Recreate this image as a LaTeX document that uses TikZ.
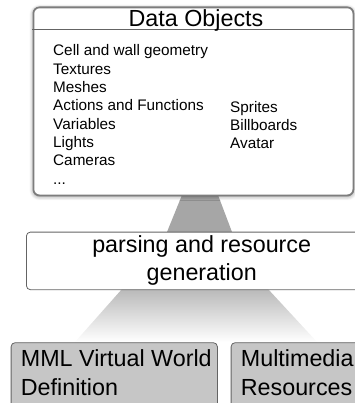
\documentclass[tikz,border=0pt]{standalone}
\usepackage{fontspec}
\setmainfont{Liberation Sans}
\usetikzlibrary{shadows.blur}
\definecolor{edge}{RGB}{100,100,100}
\definecolor{dataedge}{RGB}{125,125,125}
\definecolor{boxfill}{RGB}{198,198,198}
\definecolor{trap}{RGB}{166,166,166}
\definecolor{trapt}{RGB}{185,185,185}
\begin{document}
\begin{tikzpicture}[x=1pt,y=-1pt,
  frame/.style={draw=edge, line width=0.8pt, rounded corners=4pt, anchor=north west, inner sep=0pt},
  whitebox/.style={frame, fill=white},
  graybox/.style={frame, fill=boxfill},
  big/.style={font=\fontsize{23.3}{27.5}\selectfont, inner sep=0pt},
  item/.style={font=\fontsize{15.3}{18.4}\selectfont, inner sep=0pt, anchor=base west}]
\useasboundingbox (0,0) rectangle (354,403);
% connectors (funnels)
\fill[trap] (182,195) -- (218,195) -- (232,232) -- (167,232) -- cycle;
\shade[top color=trapt, bottom color=white] (122,289) -- (268,289) -- (317,342) -- (75,342) -- cycle;
% Data objects box
\node[whitebox, draw=dataedge, line width=1.8pt, rounded corners=6pt, minimum width=320pt, minimum height=188pt,
  blur shadow={shadow xshift=0pt, shadow yshift=-1pt, shadow blur steps=8, shadow blur radius=4pt, shadow opacity=45}] (data) at (32.5,6.5) {};
\coordinate (tl) at (32,29);
\coordinate (tr) at (353,29);
\draw[edge, line width=0.8pt] (tl) -- (tr);
\node[big, anchor=base] (title) at (196,27) {Data Objects};
\node[item] (i1) at (53,56) {Cell and wall geometry};
\node[item] (i2) at (53,74.3) {Textures};
\node[item] (i3) at (53,92.7) {Meshes};
\node[item] (i4) at (53,111) {Actions and Functions};
\node[item] (i5) at (53,129.3) {Variables};
\node[item] (i6) at (53,147.7) {Lights};
\node[item] (i7) at (53,166) {Cameras};
\node[item] (i8) at (53,184) {...};
\node[item] (s1) at (230,112.3) {Sprites};
\node[item] (s2) at (230,130.7) {Billboards};
\node[item] (s3) at (230,149) {Avatar};
% parsing box
\node[whitebox, minimum width=340pt, minimum height=57.6pt] (parse) at (26,231.7) {};
\node[big, anchor=base] (p1) at (201.7,252.7) {parsing and resource};
\node[big, anchor=base] (p2) at (201.7,280) {generation};
% bottom boxes
\node[graybox, minimum width=206.3pt, minimum height=70pt] (mml) at (10.7,342.3) {};
\node[big, anchor=base west] (m1) at (20.7,366.7) {MML Virtual World};
\node[big, anchor=base west] (m2) at (20.7,395) {Definition};
\node[graybox, minimum width=140pt, minimum height=70pt] (mm) at (230.7,342.3) {};
\node[big, anchor=base west] (r1) at (240.7,366.7) {Multimedia};
\node[big, anchor=base west] (r2) at (240.7,395) {Resources};
\end{tikzpicture}
\end{document}
